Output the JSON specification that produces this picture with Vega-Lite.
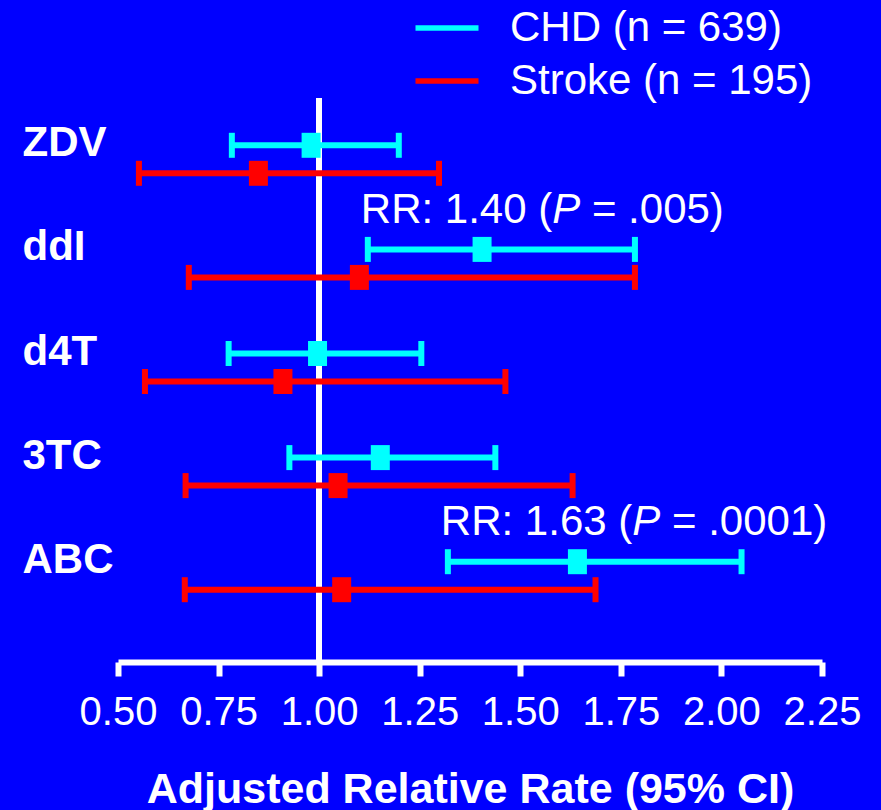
{
  "$schema": "https://vega.github.io/schema/vega-lite/v6.json",
  "width": 704,
  "height": 564,
  "autosize": {"type": "none"},
  "padding": {"left": 118, "top": 98, "right": 59, "bottom": 148},
  "background": "#0000FF",
  "config": {"view": {"stroke": null}, "font": "Liberation Sans"},
  "data": {
    "values": [
      {"drug": "ZDV", "series": "CHD (n = 639)", "rr": 0.98, "lo": 0.783, "hi": 1.198},
      {"drug": "ZDV", "series": "Stroke (n = 195)", "rr": 0.849, "lo": 0.552, "hi": 1.298},
      {"drug": "ddI", "series": "CHD (n = 639)", "rr": 1.405, "lo": 1.121, "hi": 1.785, "pre": "RR: 1.40 (", "post": "= .005)"},
      {"drug": "ddI", "series": "Stroke (n = 195)", "rr": 1.10, "lo": 0.676, "hi": 1.785},
      {"drug": "d4T", "series": "CHD (n = 639)", "rr": 0.996, "lo": 0.775, "hi": 1.254},
      {"drug": "d4T", "series": "Stroke (n = 195)", "rr": 0.91, "lo": 0.567, "hi": 1.463},
      {"drug": "3TC", "series": "CHD (n = 639)", "rr": 1.152, "lo": 0.926, "hi": 1.438},
      {"drug": "3TC", "series": "Stroke (n = 195)", "rr": 1.047, "lo": 0.668, "hi": 1.63},
      {"drug": "ABC", "series": "CHD (n = 639)", "rr": 1.642, "lo": 1.32, "hi": 2.05, "pre": "RR: 1.63 (", "post": "= .0001)"},
      {"drug": "ABC", "series": "Stroke (n = 195)", "rr": 1.056, "lo": 0.666, "hi": 1.687}
    ]
  },
  "layer": [
    {
      "mark": {"type": "rule", "color": "white", "strokeWidth": 5.5},
      "encoding": {
        "x": {"datum": 1, "type": "quantitative", "scale": {"domain": [0.5, 2.25], "nice": false, "zero": false}}
      }
    },
    {
      "mark": {"type": "rule", "strokeWidth": 6},
      "encoding": {
        "x": {
          "field": "lo", "type": "quantitative",
          "scale": {"domain": [0.5, 2.25], "nice": false, "zero": false},
          "axis": {
            "values": [0.5, 0.75, 1, 1.25, 1.5, 1.75, 2, 2.25],
            "format": ".2f",
            "labelFlush": false,
            "labelOverlap": false,
            "labelFont": "Liberation Sans",
            "labelFontSize": 40,
            "labelColor": "white",
            "labelBaseline": "alphabetic",
            "labelPadding": 48,
            "tickSize": 14,
            "tickWidth": 6,
            "tickColor": "white",
            "domainColor": "white",
            "domainWidth": 6,
            "grid": false,
            "title": "Adjusted Relative Rate (95% CI)",
            "titleFont": "Liberation Sans",
            "titleFontSize": 43,
            "titleFontWeight": "bold",
            "titleColor": "white",
            "titleBaseline": "alphabetic",
            "titleY": 140
          }
        },
        "x2": {"field": "hi"},
        "y": {
          "field": "drug", "type": "nominal",
          "scale": {"domain": ["ZDV", "ddI", "d4T", "3TC", "ABC"], "range": [9.3, 529.8], "paddingInner": 0, "paddingOuter": 0},
          "axis": {
            "title": null,
            "domain": false,
            "ticks": false,
            "tickSize": 0,
            "grid": false,
            "labelFont": "Liberation Sans",
            "labelFontSize": 42,
            "labelFontWeight": "bold",
            "labelColor": "white",
            "labelAlign": "left",
            "labelBaseline": "alphabetic",
            "labelPadding": 96,
            "labelOffset": -3
          }
        },
        "yOffset": {
          "field": "series", "type": "nominal",
          "scale": {"domain": ["CHD (n = 639)", "Stroke (n = 195)"], "range": [24, 80], "paddingInner": 0, "paddingOuter": 0}
        },
        "stroke": {
          "field": "series", "type": "nominal",
          "scale": {"domain": ["CHD (n = 639)", "Stroke (n = 195)"], "range": ["#00FFFF", "#FF0000"]},
          "legend": {
            "orient": "none",
            "legendX": 308,
            "legendY": -91,
            "title": null,
            "symbolType": "M-3,0H3",
            "symbolSize": 441,
            "symbolStrokeWidth": 5.5,
            "symbolOpacity": 1,
            "labelFont": "Liberation Sans",
            "labelFontSize": 42,
            "labelColor": "white",
            "labelLimit": 0,
            "labelOffset": 42,
            "rowPadding": 11,
            "padding": 0
          }
        }
      }
    },
    {
      "mark": {"type": "tick", "thickness": 6, "size": 25, "opacity": 1},
      "encoding": {
        "x": {"field": "lo", "type": "quantitative"},
        "y": {"field": "drug", "type": "nominal"},
        "yOffset": {"field": "series", "type": "nominal"},
        "color": {"field": "series", "type": "nominal", "scale": {"domain": ["CHD (n = 639)", "Stroke (n = 195)"], "range": ["#00FFFF", "#FF0000"]}, "legend": null}
      }
    },
    {
      "mark": {"type": "tick", "thickness": 6, "size": 25, "opacity": 1},
      "encoding": {
        "x": {"field": "hi", "type": "quantitative"},
        "y": {"field": "drug", "type": "nominal"},
        "yOffset": {"field": "series", "type": "nominal"},
        "color": {"field": "series", "type": "nominal", "legend": null}
      }
    },
    {
      "mark": {"type": "tick", "thickness": 19, "size": 25, "opacity": 1},
      "encoding": {
        "x": {"field": "rr", "type": "quantitative"},
        "y": {"field": "drug", "type": "nominal"},
        "yOffset": {"field": "series", "type": "nominal"},
        "color": {"field": "series", "type": "nominal", "legend": null}
      }
    },
    {
      "transform": [{"filter": "datum.pre"}],
      "mark": {"type": "text", "color": "white", "font": "Liberation Sans", "fontSize": 42, "align": "left", "baseline": "alphabetic", "dx": -7, "dy": -26.5},
      "encoding": {
        "x": {"field": "lo", "type": "quantitative"},
        "y": {"field": "drug", "type": "nominal"},
        "yOffset": {"field": "series", "type": "nominal"},
        "text": {"field": "pre"}
      }
    },
    {
      "transform": [{"filter": "datum.pre"}],
      "mark": {"type": "text", "color": "white", "font": "Liberation Sans", "fontSize": 42, "fontStyle": "italic", "align": "left", "baseline": "alphabetic", "dx": 184.4, "dy": -26.5, "text": "P"},
      "encoding": {
        "x": {"field": "lo", "type": "quantitative"},
        "y": {"field": "drug", "type": "nominal"},
        "yOffset": {"field": "series", "type": "nominal"}
      }
    },
    {
      "transform": [{"filter": "datum.pre"}],
      "mark": {"type": "text", "color": "white", "font": "Liberation Sans", "fontSize": 42, "align": "left", "baseline": "alphabetic", "dx": 224.1, "dy": -26.5},
      "encoding": {
        "x": {"field": "lo", "type": "quantitative"},
        "y": {"field": "drug", "type": "nominal"},
        "yOffset": {"field": "series", "type": "nominal"},
        "text": {"field": "post"}
      }
    }
  ]
}
